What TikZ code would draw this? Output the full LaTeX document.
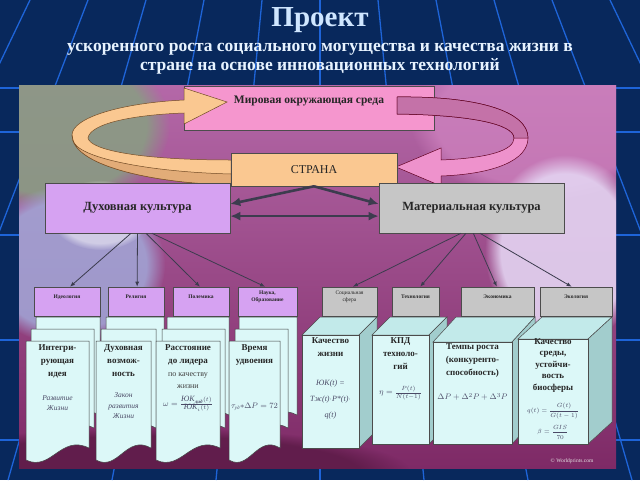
\documentclass[tikz,border=0pt]{standalone}
\usepackage{fontspec}
\setmainfont{Liberation Serif}
\usetikzlibrary{
  calc,
  arrows.meta,
  fadings,
}

\definecolor{navy}{HTML}{08285C}
\definecolor{gridblue}{HTML}{1E64D8}
\definecolor{mirpink}{HTML}{F596CE}
\definecolor{peach}{HTML}{FAC891}
\definecolor{peachdk}{HTML}{E2AC78}
\definecolor{ringpink}{HTML}{EE92CC}
\definecolor{ringmauve}{HTML}{C472A8}
\definecolor{lilac}{HTML}{D6A2F2}
\definecolor{greybox}{HTML}{C6C6C6}
\definecolor{cyanlt}{HTML}{DCF8F8}
\definecolor{cyantop}{HTML}{C2EAEA}
\definecolor{cyanside}{HTML}{A2CDCD}
\definecolor{titleblue}{HTML}{CFE6FF}
\definecolor{formgray}{HTML}{4A4A66}
\definecolor{arrdark}{HTML}{3C3C4E}
\definecolor{paneltop}{HTML}{B468A8}
\definecolor{panelmid}{HTML}{C448AC}
\definecolor{panelbot}{HTML}{7E2A66}
\definecolor{fogreen}{HTML}{8A9C84}
\definecolor{foblue}{HTML}{A2A8D8}
\definecolor{folight}{HTML}{E4D4F2}
\definecolor{fopink}{HTML}{D88CC8}
\definecolor{fodark}{HTML}{5A1A45}

% left, right, top, bottom
\newcommand{\docsheet}[4]{%
  \filldraw[doc] (#1,#3) -- (#2,#3) -- (#2,#4-12)
    .. controls ({#1+0.55*(#2-#1)},#4-26) and ({#1+0.4*(#2-#1)},#4+12) .. (#1,#4) -- cycle;}
% left, right, top, bottom, dx, dy
\newcommand{\cubebox}[6]{%
  \filldraw[cubetop] (#1,#3) -- (#1+#5,#3-#6) -- (#2+#5,#3-#6) -- (#2,#3) -- cycle;
  \filldraw[cubeside] (#2,#3) -- (#2+#5,#3-#6) -- (#2+#5,#4-#6) -- (#2,#4) -- cycle;
  \filldraw[cubefront] (#1,#3) rectangle (#2,#4);}

\begin{document}
\begin{tikzpicture}[
    x=1pt, y=-1pt,
    gridline/.style={gridblue, line width=1.3pt},
    box/.style={draw=black!70, line width=0.6pt, inner sep=0pt},
    btxt/.style={font=\fontsize{12.5}{14}\selectfont\bfseries, text=black!85},
    tag/.style={font=\fontsize{5.5}{6.5}\selectfont\bfseries, align=center, text=black!85},
    doc/.style={fill=cyanlt, draw=black!75, line width=0.5pt},
    dtxt/.style={font=\fontsize{9}{13}\selectfont\bfseries, align=center, anchor=north, text=black!85, inner sep=0pt},
    itxt/.style={font=\fontsize{7.5}{10.5}\selectfont\itshape, align=center, text=formgray, inner sep=0pt},
    form/.style={font=\fontsize{8}{16}\selectfont\itshape, align=center, text=formgray, inner sep=0pt},
    cubetop/.style={fill=cyantop, draw=black!70, line width=0.5pt},
    cubeside/.style={fill=cyanside, draw=black!70, line width=0.5pt},
    cubefront/.style={fill=cyanlt, draw=black!70, line width=0.5pt},
    fog/.style={path fading=circle with fuzzy edge 20 percent},
    fatarr/.style={draw=arrdark, line width=2.6pt, -{Latex[length=10pt,width=9pt]}},
    arr/.style={draw=arrdark, line width=0.8pt, -{Latex[length=5pt,width=4pt]}},
  ]
  \useasboundingbox (0,0) rectangle (640,480);
  \fill[navy] (0,0) rectangle (640,480);
  \foreach \k in {-6,...,6} {
      \draw[gridline] ({320+\k*58},0) -- ({320+\k*104},480);
    }
  \foreach \h in {88,132,235,340,440} {
      \draw[gridline] (0,\h) -- (640,\h);
    }

  % panel
  \begin{scope}
    \clip (19,85) rectangle (616,468);
    \shade[top color=paneltop, middle color=panelmid, bottom color=panelbot] (19,85) rectangle (616,468);
    \fill[fopink, opacity=0.6, fog] (540,120) ellipse [x radius=130pt, y radius=80pt];
    \fill[fogreen, opacity=0.9, fog] (50,125) ellipse [x radius=120pt, y radius=85pt];
    \fill[foblue, opacity=0.85, fog] (70,265) ellipse [x radius=95pt, y radius=80pt];
    \fill[white, opacity=0.5, fog] (100,215) ellipse [x radius=50pt, y radius=35pt];
    \fill[folight, opacity=0.9, fog] (565,250) ellipse [x radius=80pt, y radius=95pt];
    \fill[fodark, opacity=0.8, fog] (150,472) ellipse [x radius=260pt, y radius=45pt];
  \end{scope}

  \node[font=\fontsize{29}{30}\selectfont\bfseries, text=titleblue] (title) at (320,20) {Проект};
  \node[font=\fontsize{17.5}{19}\selectfont\bfseries, text=titleblue!50!white, align=center] (sub) at (320,59)
    {ускоренного роста социального могущества и качества жизни в\\стране на основе инновационных технологий};

  \node[box, fill=mirpink, minimum width=250, minimum height=44] (mir) at (309,108) {};

  % ring of arrows
  \filldraw[fill=peach, draw=brown!60!black, line width=0.5pt]
    (231,160) .. controls (140,160) and (90,150) .. (88,138)
    .. controls (90,124) and (130,115) .. (184,113)
    -- (184,124) -- (227,102) -- (184,88) -- (184,100)
    .. controls (120,103) and (72,118) .. (72,135)
    .. controls (72,165) and (150,183) .. (231,185) -- cycle;
  \filldraw[fill=peachdk, draw=brown!60!black, line width=0.5pt]
    (72,135) .. controls (72,165) and (150,183) .. (231,185)
    -- (231,174) .. controls (150,172) and (76,158) .. (73,140) -- cycle;
  \filldraw[fill=ringpink, draw=purple!50!black, line width=0.5pt]
    (397,97) .. controls (480,96) and (528,112) .. (528,138)
    .. controls (528,160) and (495,174) .. (441,176)
    -- (441,186) -- (396,167) -- (441,148) -- (441,160)
    .. controls (490,158) and (514,150) .. (514,138)
    .. controls (514,124) and (470,115) .. (397,114) -- cycle;
  \filldraw[fill=ringmauve, draw=purple!50!black, line width=0.5pt]
    (397,97) .. controls (480,96) and (528,112) .. (528,138)
    -- (514,138) .. controls (514,124) and (470,115) .. (397,114) -- cycle;

  \node[btxt, font=\fontsize{11.5}{13}\selectfont\bfseries] (mirt) at (309,101) {Мировая окружающая среда};
  \node[box, fill=peach, minimum width=166, minimum height=33, btxt, font=\fontsize{12}{14}\selectfont] (strana) at (314,169.5) {СТРАНА};

  \node[box, fill=lilac, minimum width=185, minimum height=50, btxt] (duh) at (137.5,208) {Духовная культура};
  \node[box, fill=greybox, minimum width=185, minimum height=50, btxt] (mat) at (471.5,208) {Материальная культура};

  \draw[fatarr] (strana.south) -- ($(duh.north east)!0.42!(duh.south east)$);
  \draw[fatarr] (strana.south) -- ($(mat.north west)!0.42!(mat.south west)$);
  \draw[fatarr, {Latex[length=10pt,width=9pt]}-{Latex[length=10pt,width=9pt]}]
    ($(duh.north east)!0.66!(duh.south east)$) -- ($(mat.north west)!0.66!(mat.south west)$);

  % small boxes
  \foreach \n/\x/\w/\t in {1/67/66/Идеология, 2/136/56/Религия, 3/201/56/Полемика, 4/267.5/59/{Наука,\\Образование}} {
      \node[box, fill=lilac, minimum width=\w, minimum height=29] (i\n) at (\x,301.5) {};
      \node[tag] (ti\n) at (\x,297) {\t};
    }
  \foreach \n/\x/\w/\t in {1/349.5/55/{\mdseries Социальная\\\mdseries сфера}, 2/415.5/47/Технология, 3/497.5/73/Экономика, 4/576/72/Экология} {
      \node[box, fill=greybox, minimum width=\w, minimum height=29] (s\n) at (\x,301.5) {};
      \node[tag] (ts\n) at (\x,297) {\t};
    }
  \foreach \n/\a/\b in {1/0.465/0.545, 2/0.50/0.52, 3/0.546/0.48, 4/0.578/0.46} {
      \draw[arr] ($(duh.south west)!\a!(duh.south east)$) -- ($(i\n.north west)!\b!(i\n.north east)$);
    }
  \foreach \n/\a/\b in {1/0.443/0.56, 2/0.47/0.6, 3/0.51/0.49, 4/0.546/0.44} {
      \draw[arr] ($(mat.south west)!\a!(mat.south east)$) -- ($(s\n.north west)!\b!(s\n.north east)$);
    }

  % stacked sheets
  \foreach \l/\r/\m/\mr/\f/\fr in {36/100/31/94/26/89, 106/164/101/156/96/151, 167/229/162/225/156/220, 239/297/235/288/229/280} {
      \docsheet{\l}{\r}{317}{427}
      \docsheet{\m}{\mr}{329}{440}
      \docsheet{\f}{\fr}{341}{460}
    }
  \node[dtxt] (dt1) at (57.5,344) {Интегри-\\рующая\\идея};
  \node[itxt] (di1) at (57.5,403) {Развитие\\Жизни};
  \node[dtxt] (dt2) at (123.5,344) {Духовная\\возмож-\\ность};
  \node[itxt] (di2) at (123.5,406) {Закон\\развития\\Жизни};
  \node[dtxt] (dt3) at (188,344) {Расстояние\\до лидера};
  \node[itxt, font=\fontsize{8}{12}\selectfont, text=black!75] (dn3) at (188,381) {по качеству\\жизни};
  \node[form, font=\fontsize{8}{9}\selectfont\itshape] (df3) at (188,404)
    {$\omega = \frac{\mbox{\itshape ЮК}_{\mbox{\tiny\bfseries лид}}(t)}{\mbox{\itshape ЮК}_i(t)}$};
  \node[dtxt] (dt4) at (254.5,344) {Время\\удвоения};
  \node[form, font=\fontsize{8}{9}\selectfont\itshape] (df4) at (254.5,407)
    {$\tau_{\mbox{\tiny уд}}{*}\Delta P = 72$};

  % cuboids
  \cubebox{302}{359}{335}{448}{18}{18}
  \cubebox{372}{429}{335}{444}{18}{18}
  \cubebox{433}{512}{342}{444}{23}{25}
  \cubebox{518}{588}{339}{444}{24}{22}

  \node[dtxt] (kt1) at (330.5,337) {Качество\\жизни};
  \node[form] (kf1) at (330.5,400) {ЮК(\textit{t}) =\\Тж(t)$\cdot$P*(t)$\cdot$\\q(t)};
  \node[dtxt] (kt2) at (400.5,337) {КПД\\техноло-\\гий};
  \node[form] (kf2) at (400.5,393) {$\eta = \frac{P(t)}{N(t-1)}$};
  \node[dtxt] (kt3) at (472.5,343) {Темпы роста\\(конкуренто-\\способность)};
  \node[form] (kf3) at (472.5,397) {$\Delta P + \Delta^2 P + \Delta^3 P$};
  \node[dtxt, font=\fontsize{9}{11.5}\selectfont\bfseries] (kt4) at (553,338) {Качество\\среды,\\устойчи-\\вость\\биосферы};
  \node[form, font=\fontsize{6.5}{8}\selectfont\itshape] (kf4a) at (553,411) {$\displaystyle q(t) = \frac{G(t)}{G(t-1)}$};
  \node[form, font=\fontsize{6.5}{8}\selectfont\itshape] (kf4b) at (553,432) {$\displaystyle \beta = \frac{GIS}{70}$};

  \node[font=\fontsize{5.5}{6}\selectfont, text=white!80!gray] (wm) at (572,461) {\textcopyright\ Worldprints.com};
\end{tikzpicture}
\end{document}
